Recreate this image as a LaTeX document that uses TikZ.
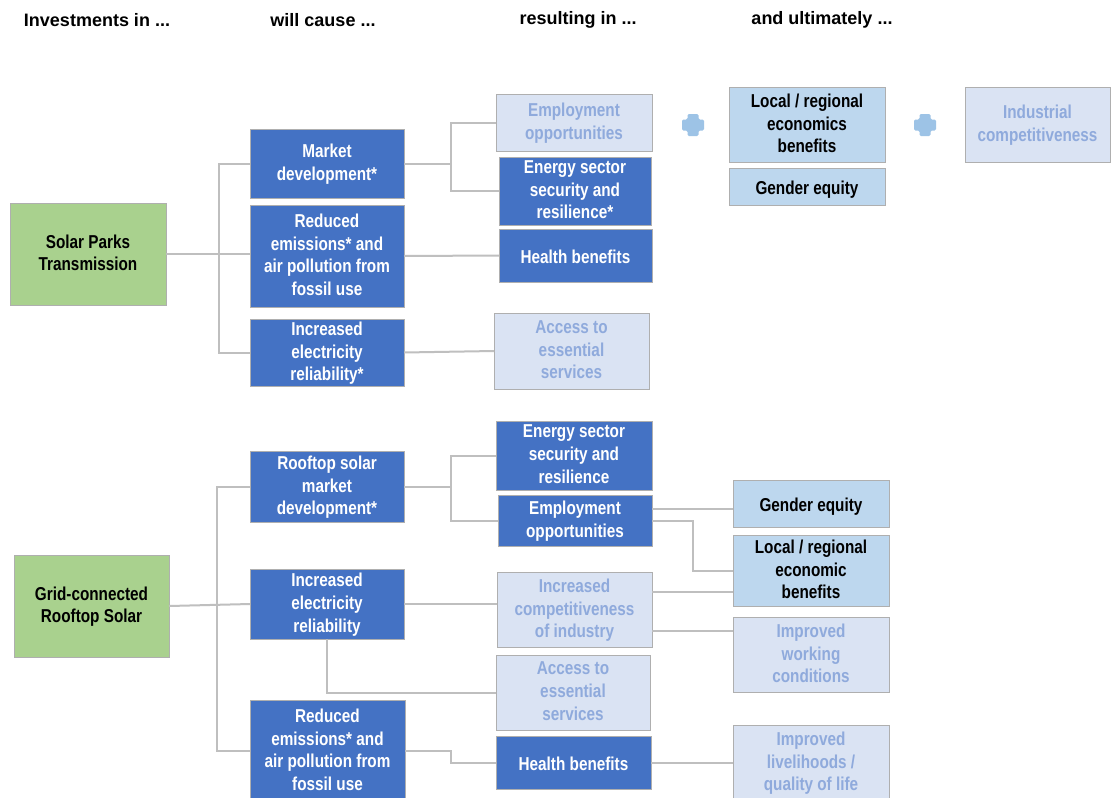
\documentclass[tikz,border=0pt]{standalone}
\usepackage{fontspec}
\setmainfont{Liberation Sans}
\newfontfamily\narrowsans{Liberation Sans}[FakeStretch=0.82]
\usetikzlibrary{calc}

\definecolor{boxdark}{HTML}{4472C4}
\definecolor{boxlight}{HTML}{BDD7EE}
\definecolor{boxfaded}{HTML}{DAE3F3}
\definecolor{textfaded}{HTML}{8FAADC}
\definecolor{boxgreen}{HTML}{A9D18E}
\definecolor{linegray}{HTML}{BFBFBF}
\definecolor{edgegray}{HTML}{AFAFAF}
\definecolor{pluscol}{HTML}{9DC3E6}

\tikzset{
  box/.style={inner sep=0pt, outer sep=0pt, draw=edgegray, line width=0.75pt,
    align=center, font=\narrowsans\bfseries\fontsize{14}{17}\selectfont,
    text depth=1.9pt},
  oneline/.style={text depth=1pt, execute at begin node={\rule{0pt}{13pt}}},
  span/.style args={#1/#2/#3/#4}{at={({(#1+#3)/2},{(#2+#4)/2})},
    minimum width={(#3-#1)*0.75pt}, minimum height={(#4-#2)*0.75pt}},
  darkbox/.style={box, fill=boxdark, text=white},
  lightbox/.style={box, fill=boxlight, text=black},
  fadedbox/.style={box, fill=boxfaded, text=textfaded},
  greenbox/.style={box, fill=boxgreen, text=black},
  conn/.style={draw=linegray, line width=1.5pt},
  heading/.style={font=\bfseries\fontsize{13.5}{16}\selectfont, text=black, inner sep=0pt},
  plusmark/.style={fill=pluscol, rounded corners=1pt}
}

\begin{document}
\begin{tikzpicture}[x=0.75pt, y=-0.75pt]
\useasboundingbox (0,0) rectangle (1111,797);
\fill[white] (0,0) rectangle (1111,797);

% column headings
\node[heading] (h1) at (97,20) {Investments in ...};
\node[heading] (h2) at (323,20) {will cause ...};
\node[heading] (h3) at (578,20) {resulting in ...};
\node[heading] (h4) at (822,20) {and ultimately ...};

% ---------- Solar parks / transmission ----------
\node[greenbox, span=10/203/166/305] (sp) {Solar Parks\\Transmission};

\node[darkbox, span=250/129/404/198] (md) {Market\\development*};
\node[darkbox, span=250/205/404/307] (re) {Reduced\\emissions* and\\air pollution from\\fossil use};
\node[darkbox, span=250/319/404/386] (inc) {Increased\\electricity\\reliability*};

\node[fadedbox, span=496/94/652/151] (ep1) {Employment\\opportunities};
\node[darkbox, span=499/157/651/225] (es1) {Energy sector\\security and\\resilience*};
\node[darkbox, oneline, span=499/229/652/282] (hb1) {Health benefits};
\node[fadedbox, span=494/313/649/389] (ac1) {Access to\\essential\\services};

\node[lightbox, span=729/87/885/162] (lr1) {Local / regional\\economics\\benefits};
\node[lightbox, oneline, span=729/168/885/205] (ge1) {Gender equity};
\node[fadedbox, span=965/87/1110/162] (ind) {Industrial\\competitiveness};

% plus signs between outcome groups
\fill[plusmark, shift={(693,125)}] (-5.5,-11) -- (5.5,-11) -- (5.5,-5.5) -- (11,-5.5) -- (11,5.5) -- (5.5,5.5) -- (5.5,11) -- (-5.5,11) -- (-5.5,5.5) -- (-11,5.5) -- (-11,-5.5) -- (-5.5,-5.5) -- cycle;
\fill[plusmark, shift={(925,125)}] (-5.5,-11) -- (5.5,-11) -- (5.5,-5.5) -- (11,-5.5) -- (11,5.5) -- (5.5,5.5) -- (5.5,11) -- (-5.5,11) -- (-5.5,5.5) -- (-11,5.5) -- (-11,-5.5) -- (-5.5,-5.5) -- cycle;

% connectors
\coordinate (ja) at (219,0);
\coordinate (jb) at (451,0);
\draw[conn] (md.west) -- (md.west -| ja) |- (inc.west);
\draw[conn] (sp.east) -- (sp.east -| re.west);
\draw[conn] (ep1.west) -- (ep1.west -| jb) |- (es1.west);
\draw[conn] (md.east) -- (md.east -| jb);
\draw[conn] (re.east) -- (hb1.west);
\draw[conn] (inc.east) -- (ac1.west);

% ---------- Grid-connected rooftop solar ----------
\node[greenbox, span=14/555/169/657] (gs) {Grid-connected\\Rooftop Solar};

\node[darkbox, span=250/451/404/522] (rm) {Rooftop solar\\market\\development*};
\node[darkbox, span=250/569/404/639] (ir) {Increased\\electricity\\reliability};
\node[darkbox, span=250/700/405/802] (re2) {Reduced\\emissions* and\\air pollution from\\fossil use};

\node[darkbox, span=496/421/652/490] (es2) {Energy sector\\security and\\resilience};
\node[darkbox, span=498/495/652/546] (eo2) {Employment\\opportunities};
\node[fadedbox, span=497/572/652/647] (ic2) {Increased\\competitiveness\\of industry};
\node[fadedbox, span=496/655/650/730] (ac2) {Access to\\essential\\services};
\node[darkbox, oneline, span=496/736/651/789] (hb2) {Health benefits};

\node[lightbox, oneline, span=733/480/889/527] (ge2) {Gender equity};
\node[lightbox, span=733/535/889/606] (lr2) {Local / regional\\economic\\benefits};
\node[fadedbox, span=733/617/889/692] (iw2) {Improved\\working\\conditions};
\node[fadedbox, span=733/725/889/800] (lv2) {Improved\\livelihoods /\\quality of life};

\coordinate (jc) at (217,0);
\draw[conn] (rm.west) -- (rm.west -| jc) |- (re2.west);
\draw[conn] (gs.east) -- (ir.west);
\draw[conn] (es2.west) -- (es2.west -| jb) |- (eo2.west);
\draw[conn] (rm.east) -- (rm.east -| jb);
\draw[conn] ($(eo2.east)+(0,-11.5)$) -- ($(ge2.west)+(0,5.5)$);
\draw[conn] (eo2.east) -- ++(41,0) |- (lr2.west);
\draw[conn] (ir.east) -- (ir.east -| ic2.west);
\draw[conn] ($(ic2.east)+(0,-17.5)$) -- ($(lr2.west)+(0,21.5)$);
\draw[conn] ($(ic2.east)+(0,21.5)$) -- ($(iw2.west)+(0,-23.5)$);
\draw[conn] (ir.south) |- (ac2.west);
\draw[conn] (re2.east) -- ++(46,0) |- (hb2.west);
\draw[conn] (hb2.east) -- (lv2.west);
\end{tikzpicture}
\end{document}
